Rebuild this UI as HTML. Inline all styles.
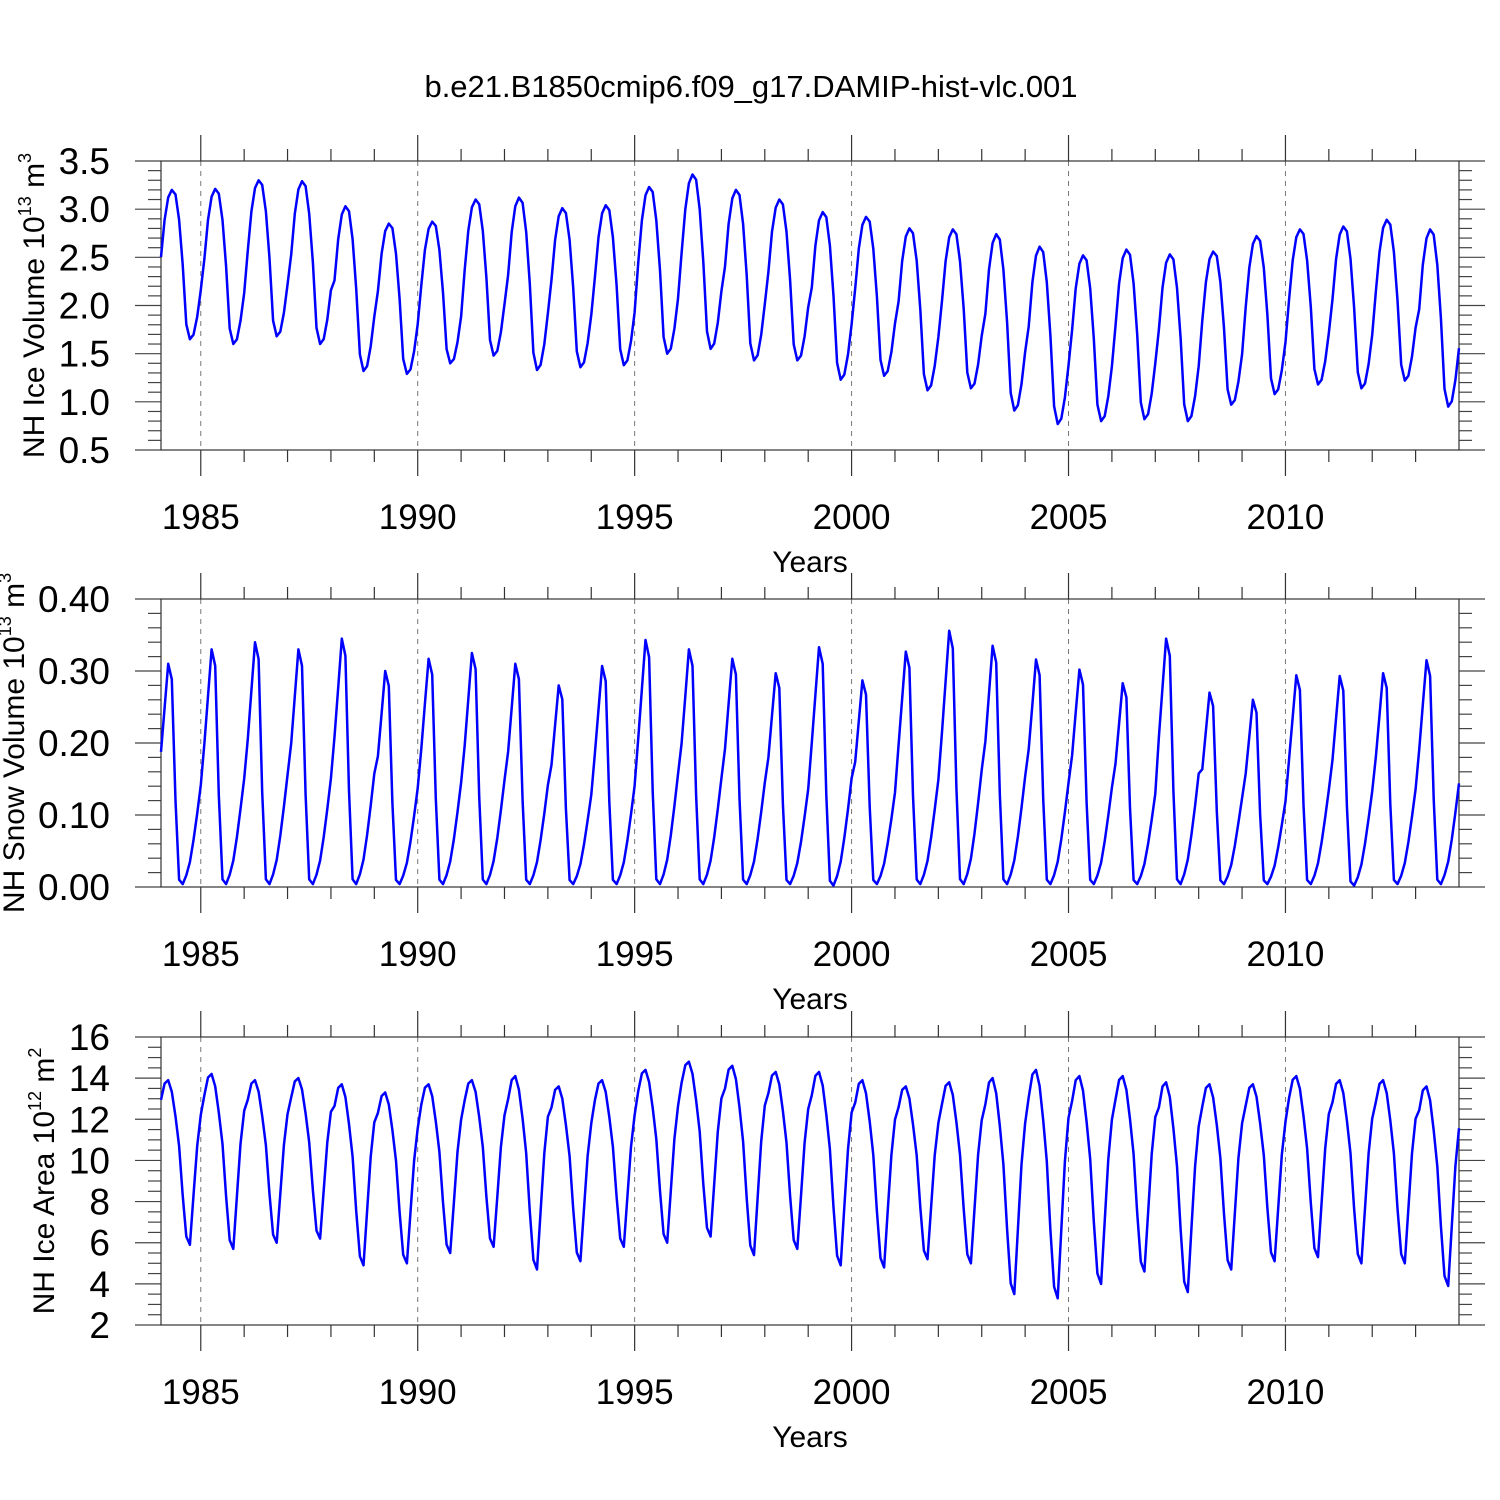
<!DOCTYPE html>
<html><head><meta charset="utf-8"><style>
body{margin:0;background:#fff}
svg{display:block;font-family:"Liberation Sans",sans-serif}
</style></head><body>
<svg id="c" width="1500" height="1500" viewBox="0 0 1500 1500">
<text x="751" y="97" font-size="31" text-anchor="middle">b.e21.B1850cmip6.f09_g17.DAMIP-hist-vlc.001</text>
</svg>
<script>
const years = [1984,1985,1986,1987,1988,1989,1990,1991,1992,1993,1994,1995,1996,1997,1998,1999,2000,2001,2002,2003,2004,2005,2006,2007,2008,2009,2010,2011,2012,2013];
const iceVolMax = [3.2,3.21,3.3,3.29,3.03,2.85,2.87,3.1,3.12,3.01,3.04,3.23,3.36,3.2,3.1,2.97,2.92,2.8,2.79,2.74,2.61,2.52,2.58,2.53,2.56,2.72,2.79,2.82,2.89,2.79];
const iceVolMin = [1.65,1.6,1.68,1.6,1.32,1.29,1.4,1.48,1.33,1.36,1.38,1.5,1.55,1.43,1.43,1.23,1.27,1.12,1.14,0.91,0.77,0.8,0.82,0.8,0.97,1.08,1.18,1.14,1.22,0.95];
const iceVolShape = [0.55,0.8,0.95,1.0,0.97,0.8,0.5,0.1,0,0.03,0.15,0.33];
const snowMax = [0.31,0.33,0.34,0.33,0.345,0.30,0.317,0.325,0.31,0.28,0.307,0.343,0.33,0.317,0.297,0.333,0.287,0.327,0.356,0.335,0.316,0.302,0.283,0.345,0.27,0.26,0.294,0.293,0.297,0.315];
const snowMin = [0.004,0.004,0.004,0.004,0.004,0.004,0.004,0.004,0.004,0.004,0.004,0.004,0.004,0.004,0.004,0.002,0.004,0.004,0.004,0.004,0.004,0.004,0.004,0.004,0.004,0.004,0.004,0.002,0.004,0.004];
const snowShape = [0.6,0.8,1.0,0.93,0.38,0.02,0,0.04,0.1,0.2,0.32,0.45];
const areaMax = [13.9,14.2,13.9,14.0,13.7,13.3,13.7,13.9,14.1,13.6,13.9,14.4,14.8,14.6,14.3,14.3,13.9,13.6,13.8,14.0,14.4,14.1,14.1,13.8,13.7,13.7,14.1,13.9,13.9,13.6];
const areaMin = [5.9,5.7,6.0,6.2,4.9,5.0,5.5,5.8,4.7,5.1,5.8,6.0,6.3,5.4,5.7,4.9,4.8,5.2,5.0,3.5,3.3,4.0,4.6,3.6,4.7,5.1,5.3,5.0,5.0,3.9];
const areaShape = [0.88,0.98,1.0,0.93,0.78,0.6,0.3,0.05,0,0.3,0.6,0.79];
const xTickYears = [1985,1990,1995,2000,2005,2010];

const svg = document.getElementById('c');
const NS = 'http://www.w3.org/2000/svg';
function mk(tag, attrs, parent){const e=document.createElementNS(NS,tag);for(const k in attrs)e.setAttribute(k,attrs[k]);(parent||svg).appendChild(e);return e;}
const X0=161,X1=1459,T0=1984+1/12,T1=2014;
const xs=t=>X0+(t-T0)/(T1-T0)*(X1-X0);

const panels=[
 {name:'ice-volume',top:161,bot:450,ymin:0.5,ymax:3.5,major:0.5,minor:0.1,dec:1,mx:iceVolMax,mn:iceVolMin,sh:iceVolShape,title:['NH Ice Volume 10','13',' m','3'],tx:44},
 {name:'snow-volume',top:599,bot:887,ymin:0,ymax:0.4,major:0.1,minor:0.02,dec:2,mx:snowMax,mn:snowMin,sh:snowShape,title:['NH Snow Volume 10','13',' m','3'],tx:24},
 {name:'ice-area',top:1037,bot:1325,ymin:2,ymax:16,major:2,minor:0.5,dec:0,mx:areaMax,mn:areaMin,sh:areaShape,title:['NH Ice Area 10','12',' m','2'],tx:54}
];
panels.forEach(p=>{
 const g=mk('g',{});
 
 
 const ys=v=>p.bot-(v-p.ymin)/(p.ymax-p.ymin)*(p.bot-p.top);
 xTickYears.forEach(y=>{const l=mk('line',{x1:xs(y),x2:xs(y),y1:p.top,y2:p.bot,stroke:'#777','stroke-width':1,'stroke-dasharray':'5,5'},g);
  });
 for(let y=1985;y<=2013;y++){const major=xTickYears.includes(y);const L=major?26:12;
  mk('line',{x1:xs(y),x2:xs(y),y1:p.top-L,y2:p.top,stroke:'#333','stroke-width':1.2},g);
  mk('line',{x1:xs(y),x2:xs(y),y1:p.bot,y2:p.bot+L,stroke:'#333','stroke-width':1.2},g);}
 xTickYears.forEach(y=>{const t=mk('text',{x:xs(y),y:p.bot+79,'font-size':35,'text-anchor':'middle'},g);t.textContent=y;
  });
 const xt=mk('text',{x:810,y:p.bot+122,'font-size':30,'text-anchor':'middle'},g);xt.textContent='Years';
 
 const nMin=Math.round((p.ymax-p.ymin)/p.minor);
 for(let i=0;i<=nMin;i++){const v=p.ymin+i*p.minor;const r=Math.abs(v/p.major-Math.round(v/p.major))<1e-6;const L=r?26:13;
  mk('line',{x1:X0-L,x2:X0,y1:ys(v),y2:ys(v),stroke:'#444','stroke-width':1.2},g);
  mk('line',{x1:X1,x2:X1+L,y1:ys(v),y2:ys(v),stroke:'#444','stroke-width':1.2},g);
  if(r){const t=mk('text',{x:110,y:ys(v)+13,'font-size':37,'text-anchor':'end'},g);t.textContent=v.toFixed(p.dec);
   }}
 const fr=mk('rect',{x:X0,y:p.top,width:X1-X0,height:p.bot-p.top,fill:'none',stroke:'#333','stroke-width':1.2},g);
 
 const cy=(p.top+p.bot)/2;
 const yt=mk('text',{transform:`translate(${p.tx},${cy}) rotate(-90)`,'font-size':30,'text-anchor':'middle',y:0},g);
 
 p.title.forEach((s,i)=>{const ts=mk('tspan',i%2?{'font-size':18,dy:-13}:{dy:i?13:0},yt);ts.textContent=s;});
 const pts=[];
 years.forEach((yr,i)=>{for(let m=0;m<12;m++){const v=p.mn[i]+(p.mx[i]-p.mn[i])*p.sh[m];pts.push(xs(yr+(m+1)/12).toFixed(1)+','+ys(v).toFixed(1));}});
 const pl=mk('polyline',{points:pts.join(' '),fill:'none',stroke:'#0000ff','stroke-width':2.5,'stroke-linejoin':'round'},g);
 
});
</script>
</body></html>
